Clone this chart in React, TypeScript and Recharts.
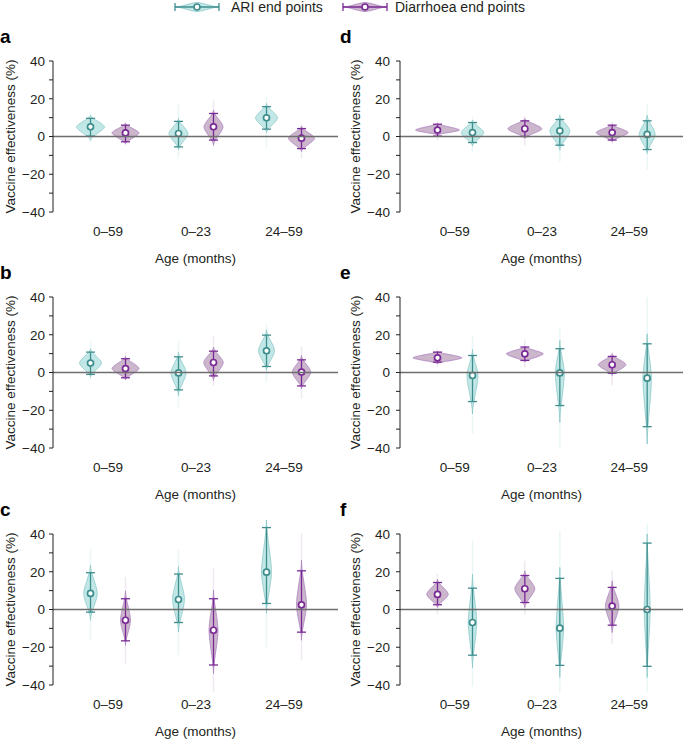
import React from "react";
import { Bar, ComposedChart, ReferenceLine, XAxis, YAxis } from "recharts";

const FONT = '"Liberation Sans", Arial, Helvetica, sans-serif';
const INK = "#231f20";

const AGES = ["0–59", "0–23", "24–59"];
const Y_TICKS = [-40, -30, -20, -10, 0, 10, 20, 30, 40];

// one row per age group:
// [median, 95% CI low, 95% CI high, violin low, violin high, tail low, tail high, peak density]
const A_ARI = [
  [5.1, 0.2, 9.6, -2, 11.3, -3, 13, 0.56],
  [1.6, -5.5, 8, -7, 9.5, -11, 17.5, 0.38],
  [9.9, 3.9, 15.8, 2, 17.5, -6, 21, 0.44],
];
const A_DIA = [
  [1.9, -2.8, 6, -4, 7, -4.5, 8, 0.54],
  [5.1, -1.9, 12.2, -4.6, 14, -5.5, 19, 0.38],
  [-0.9, -6.4, 4.2, -8, 5.5, -11.7, 6.5, 0.52],
];
const B_ARI = [
  [5, -1, 10.8, -2.5, 12.6, -4, 17, 0.44],
  [-0.2, -9.2, 8.3, -12.2, 10.8, -18.4, 17, 0.3],
  [11.5, 3.2, 19.8, 1, 22.7, -5.1, 25.8, 0.32],
];
const B_DIA = [
  [2.1, -2.8, 7.3, -3.9, 8.5, -4.2, 10.8, 0.54],
  [5.3, -1.8, 11.3, -4.2, 13.5, -6.9, 19.6, 0.39],
  [0.2, -7.1, 6.7, -8.7, 9, -14, 13.8, 0.37],
];
const C_ARI = [
  [8.5, -1.4, 19.5, -5.7, 23.5, -16.3, 32.4, 0.27],
  [5.3, -6.9, 18.8, -11.9, 22.7, -24, 31.5, 0.24],
  [19.8, 3.2, 43.4, -2, 47.4, -20, 47.6, 0.2],
];
const C_DIA = [
  [-5.7, -16.6, 5.7, -19, 9.9, -28.7, 17.3, 0.2],
  [-11, -29.4, 5.7, -34, 10.3, -43.7, 21.8, 0.18],
  [2.5, -12, 20.5, -16.3, 26, -26.9, 40.4, 0.2],
];
const D_ARI = [
  [2.1, -3.2, 7.4, -5.1, 8.7, -8.1, 10.4, 0.45],
  [3, -4.6, 9, -7.3, 11.3, -13.5, 12.2, 0.4],
  [1.1, -6.9, 8.3, -9, 11.3, -17.9, 17.5, 0.32],
];
const D_DIA = [
  [3.4, 0.2, 6.5, 0.7, 7, -2, 7.8, 0.88],
  [4.1, 0, 8.3, -1, 9.5, -4.6, 10.8, 0.68],
  [2.1, -1.9, 6, -2.8, 6.5, -3.7, 7.8, 0.64],
];
const E_ARI = [
  [-1.6, -15.4, 9, -22, 12.2, -32.6, 19.6, 0.22],
  [-0.2, -17.5, 12.6, -26.4, 17, -40, 23.2, 0.18],
  [-3, -28.7, 15.2, -37.9, 20.5, -38, 40, 0.17],
];
const E_DIA = [
  [7.8, 5.5, 10.8, 4.6, 11.2, 2.8, 12.6, 0.98],
  [9.9, 6.4, 13.5, 5.5, 13.8, 2.8, 17, 0.74],
  [4.1, -0.4, 8.5, -1.6, 9.9, -6.9, 10.8, 0.55],
];
const F_ARI = [
  [-6.9, -24.2, 11.3, -30.8, 18.8, -41, 36.5, 0.17],
  [-9.9, -29.6, 16.5, -36, 22.3, -44, 41.8, 0.15],
  [0, -30.1, 35.2, -36, 40, -44, 45.7, 0.12],
];
const F_DIA = [
  [8, 2.5, 14.3, 1, 16, -2.5, 18.8, 0.43],
  [11, 3.7, 18, 1, 20.5, -2.5, 25.8, 0.4],
  [1.8, -8.3, 11.7, -12.2, 15.2, -18.4, 20.5, 0.27],
];

const ARI_COL = { fill: "#c2e7e7", edge: "#7fc1c1", line: "#3f8e8e", tail: "#eaf6f6" };
const DIA_COL = { fill: "#cbb6cb", edge: "#a574bd", line: "#7a2a96", tail: "#f0e8f0" };

const MAX_HALF = 25;
const clampAxis = (v: number) => Math.max(-40, Math.min(40, v));

type Pal = typeof ARI_COL;

// violin profile: rounded near the peak, tapering to a point
const profile = (t: number) => Math.pow(Math.max(0, 1 - Math.pow(Math.min(1, t), 1.6)), 1.8);

function violinShape(key: "ari" | "dia", pal: Pal) {
  return (props: any) => {
    const { x, y, width, height, payload } = props;
    const [med, lo, hi, bLo, bHi, tLo, tHi, dens] = payload[key] as number[];
    const a = clampAxis(lo);
    const b = clampAxis(hi);
    // bar rect spans the (visible) CI, map any value linearly from it
    const py = (v: number) => y + ((b - v) / (b - a)) * height;
    const cx = x + width / 2;
    const hw = dens * MAX_HALF;
    const right: string[] = [];
    const left: string[] = [];
    const n = 60;
    for (let i = 0; i <= n; i++) {
      const v = bHi - ((bHi - bLo) * i) / n;
      const t = v >= med ? (v - med) / (bHi - med || 1) : (med - v) / (med - bLo || 1);
      const w = hw * profile(t);
      right.push(`${(cx + w).toFixed(2)},${py(v).toFixed(2)}`);
      left.unshift(`${(cx - w).toFixed(2)},${py(v).toFixed(2)}`);
    }
    const d = `M${right.join("L")}L${left.join("L")}Z`;
    return (
      <g>
        <line x1={cx} x2={cx} y1={py(tHi)} y2={py(tLo)} stroke={pal.tail} strokeWidth={1.5} />
        <path d={d} fill={pal.fill} stroke={pal.edge} strokeWidth={0.7} />
        <line x1={cx} x2={cx} y1={py(hi)} y2={py(lo)} stroke={pal.line} strokeWidth={1.3} />
        <line x1={cx - 4.5} x2={cx + 4.5} y1={py(hi)} y2={py(hi)} stroke={pal.line} strokeWidth={1.3} />
        <line x1={cx - 4.5} x2={cx + 4.5} y1={py(lo)} y2={py(lo)} stroke={pal.line} strokeWidth={1.3} />
        <circle cx={cx} cy={py(med)} r={3} fill="#fff" stroke={pal.line} strokeWidth={1.7} />
      </g>
    );
  };
}

const fmtY = (v: number) => (v % 20 === 0 ? String(v).replace("-", "\u2212") : "");

function Panel({ ari, dia, diaFirst, wide }: { ari: number[][]; dia: number[][]; diaFirst?: boolean; wide?: boolean }) {
  const rows = AGES.map((age, i) => ({ age, ari: ari[i], dia: dia[i] }));
  const order: ("ari" | "dia")[] = diaFirst ? ["dia", "ari"] : ["ari", "dia"];
  const axisW = wide ? 60 : 53;
  const labelX = wide ? 20 : 15;
  return (
    <ComposedChart
      width={wide ? 345 : 340}
      height={222}
      data={rows}
      margin={{ top: 16, right: 2, bottom: 0, left: 0 }}
      barGap={0}
    >
      <XAxis
        dataKey="age"
        axisLine={false}
        tickLine={false}
        tickSize={0}
        tickMargin={0}
        height={55}
        padding={{ left: 11, right: 10 }}
        interval={0}
        tick={(p: any) => (
          <text x={p.x} y={p.y + 24} textAnchor="middle" fontSize={13.5} fontFamily={FONT} fill={INK}>
            {p.payload.value}
          </text>
        )}
        label={{
          content: (p: any) => {
            const vb = p.viewBox;
            return (
              <text x={vb.x + vb.width / 2} y={vb.y + 51} textAnchor="middle" fontSize={13.5} fontFamily={FONT} fill={INK}>
                Age (months)
              </text>
            );
          },
        }}
      />
      <YAxis
        type="number"
        domain={[-40, 40]}
        ticks={Y_TICKS}
        interval={0}
        width={axisW}
        tickSize={4}
        tickMargin={wide ? 6 : 4}
        tickFormatter={fmtY}
        axisLine={{ stroke: INK, strokeWidth: 1 }}
        tickLine={{ stroke: INK, strokeWidth: 1 }}
        tick={{ fontSize: 13.5, fontFamily: FONT, fill: INK }}
        label={{
          content: (p: any) => {
            const vb = p.viewBox;
            const cy = vb.y + vb.height / 2;
            return (
              <text
                x={vb.x + labelX}
                y={cy}
                transform={`rotate(-90 ${vb.x + labelX} ${cy})`}
                textAnchor="middle"
                fontSize={13.5}
                fontFamily={FONT}
                fill={INK}
              >
                Vaccine effectiveness (%)
              </text>
            );
          },
        }}
      />
      <ReferenceLine y={0} stroke="#6e6e6e" strokeWidth={1.3} />
      {order.map((k) => (
        <Bar
          key={k}
          dataKey={(d: any) => [clampAxis(d[k][1]), clampAxis(d[k][2])]}
          barSize={35}
          isAnimationActive={false}
          shape={violinShape(k, k === "ari" ? ARI_COL : DIA_COL)}
        />
      ))}
    </ComposedChart>
  );
}

function LegendIcon({ x0, x1, y, pal }: { x0: number; x1: number; y: number; pal: Pal }) {
  const mid = (x0 + x1) / 2;
  const half = (x1 - x0) / 2;
  const top: string[] = [];
  const bot: string[] = [];
  for (let i = 0; i <= 40; i++) {
    const u = -1 + (2 * i) / 40;
    const h = 4.5 * profile(Math.abs(u));
    top.push(`${(mid + u * half).toFixed(2)},${(y - h).toFixed(2)}`);
    bot.unshift(`${(mid + u * half).toFixed(2)},${(y + h).toFixed(2)}`);
  }
  return (
    <g>
      <path d={`M${top.join("L")}L${bot.join("L")}Z`} fill={pal.fill} stroke={pal.edge} strokeWidth={0.7} />
      <line x1={x0} x2={x1} y1={y} y2={y} stroke={pal.line} strokeWidth={1.3} />
      <line x1={x0} x2={x0} y1={y - 4} y2={y + 4} stroke={pal.line} strokeWidth={1.3} />
      <line x1={x1} x2={x1} y1={y - 4} y2={y + 4} stroke={pal.line} strokeWidth={1.3} />
      <circle cx={mid} cy={y} r={3} fill="#fff" stroke={pal.line} strokeWidth={1.6} />
    </g>
  );
}

const PANELS = [
  { letter: "a", left: 0, top: 45, ari: A_ARI, dia: A_DIA, diaFirst: false },
  { letter: "b", left: 0, top: 280.5, ari: B_ARI, dia: B_DIA, diaFirst: false },
  { letter: "c", left: 0, top: 517.5, ari: C_ARI, dia: C_DIA, diaFirst: false },
  { letter: "d", left: 340, top: 45, ari: D_ARI, dia: D_DIA, diaFirst: true },
  { letter: "e", left: 340, top: 280.5, ari: E_ARI, dia: E_DIA, diaFirst: true },
  { letter: "f", left: 340, top: 517.5, ari: F_ARI, dia: F_DIA, diaFirst: true },
];

export default function App() {
  return (
    <div style={{ position: "absolute", left: 0, top: 0, width: 685, height: 740, background: "#fff", fontFamily: FONT, overflow: "hidden" }}>
      <svg width={685} height={22} style={{ position: "absolute", left: 0, top: 0 }}>
        <LegendIcon x0={175} x1={219} y={7} pal={ARI_COL} />
        <text x={231} y={12} fontSize={14} fontFamily={FONT} fill={INK}>ARI end points</text>
        <LegendIcon x0={343} x1={387} y={7} pal={DIA_COL} />
        <text x={395} y={12} fontSize={14} fontFamily={FONT} fill={INK}>Diarrhoea end points</text>
      </svg>
      {PANELS.map((p) => (
        <React.Fragment key={p.letter}>
          <div style={{ position: "absolute", left: p.left, top: p.top }}>
            <Panel ari={p.ari} dia={p.dia} diaFirst={p.diaFirst} wide={p.left > 0} />
          </div>
          <div
            style={{
              position: "absolute",
              left: p.left,
              top: p.top - 18,
              fontSize: 19,
              fontWeight: 700,
              lineHeight: "19px",
              color: "#000",
            }}
          >
            {p.letter}
          </div>
        </React.Fragment>
      ))}
    </div>
  );
}
